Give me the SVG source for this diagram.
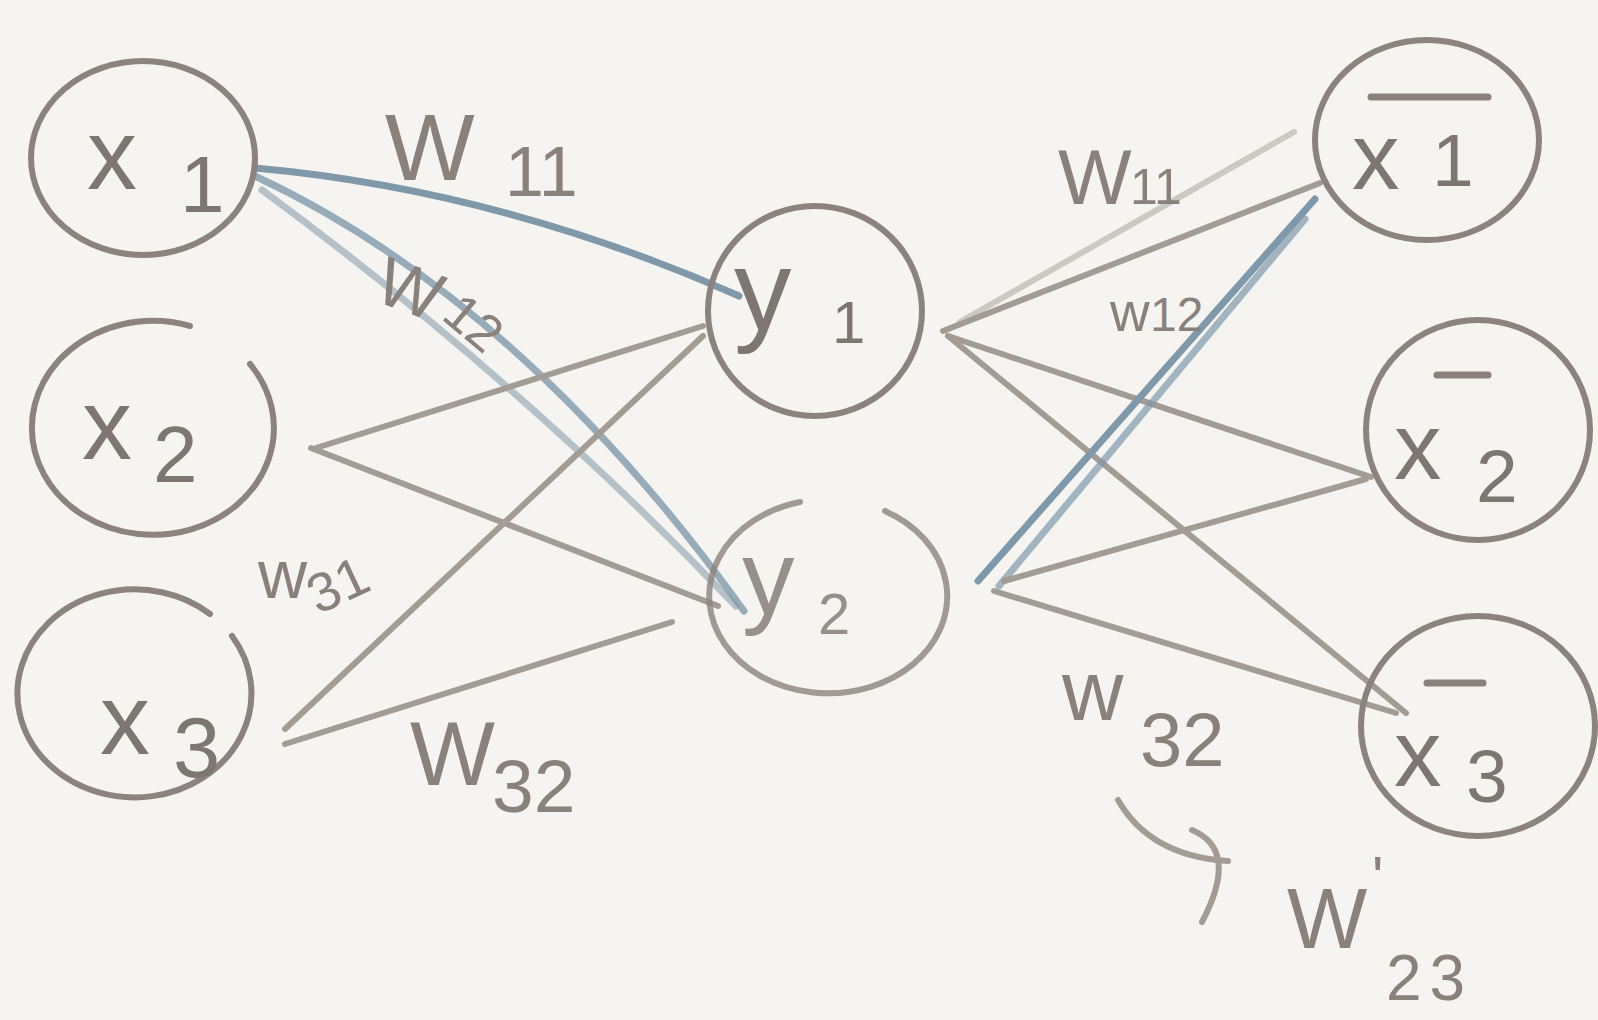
<svg xmlns="http://www.w3.org/2000/svg" width="1598" height="1020" viewBox="0 0 1598 1020">
<style>
.node{fill:none;stroke:#8c8280;stroke-width:6;stroke-linecap:round}
.lbl{font-family:"Liberation Sans","DejaVu Sans",sans-serif;fill:#7e7673}
.bar{stroke:#8a817e;stroke-width:7;stroke-linecap:round}
.e{fill:none;stroke:#a39c95;stroke-width:6;stroke-linecap:round}
.eb{fill:none;stroke:#7f98aa;stroke-width:7;stroke-linecap:round}
.wl{font-family:"Liberation Sans","DejaVu Sans",sans-serif;fill:#8a817c}
</style>
<rect x="0" y="0" width="1598" height="1020" fill="#f5f4f0"/>
<g id="connectors">
<path class="eb" d="M255,168 Q500,190 739,296"/>
<path class="eb" d="M255,176 Q520,300 744,611" opacity="0.8"/>
<path class="eb" d="M262,190 Q520,380 736,606" opacity="0.55"/>
<path class="e" d="M316,448 L703,326"/>
<path class="e" d="M311,448 L718,606"/>
<path class="e" d="M285,729 L703,336"/>
<path class="e" d="M285,744 L672,622" stroke="#968d88"/>
<path class="e" d="M943,331 L1320,183"/>
<path class="e" d="M960,322 L1294,132" opacity="0.5"/>
<path class="e" d="M948,336 L1371,477"/>
<path class="e" d="M948,336 L1406,713"/>
<path class="eb" d="M978,581 L1315,199"/>
<path class="eb" d="M999,586 L1305,219" opacity="0.7"/>
<path class="e" d="M1004,581 L1366,479" stroke="#b3a9a8"/>
<path class="e" d="M994,591 L1396,713"/>
<path class="e" d="M1118,800 Q1150,856 1228,861" stroke="#8a817e"/>
<path class="e" d="M1192,830 Q1240,850 1202,922" stroke="#8a817e"/>
</g>
<g id="x1">
<ellipse class="node" cx="143" cy="158" rx="112" ry="97"/>
<text class="lbl" x="87" y="189" font-size="100">x</text>
<text class="lbl" x="180" y="212" font-size="80">1</text>
</g>
<g id="x2">
<path class="node" d="M190,326 A121,107 0 1 0 250,364"/>
<text class="lbl" x="82" y="459" font-size="100">x</text>
<text class="lbl" x="153" y="482" font-size="80">2</text>
</g>
<g id="x3">
<path class="node" d="M210,614 A117,104 0 1 0 232,636"/>
<text class="lbl" x="100" y="754" font-size="100">x</text>
<text class="lbl" x="173" y="777" font-size="85">3</text>
</g>
<g id="y1">
<ellipse class="node" cx="815" cy="311" rx="107" ry="105"/>
<text class="lbl" x="734" y="330" font-size="115">y</text>
<text class="lbl" x="832" y="343" font-size="60">1</text>
</g>
<g id="y2">
<path class="node" d="M800,502 A119,97 0 1 0 885,511" opacity="0.8"/>
<text class="lbl" x="742" y="614" font-size="105" fill-opacity="0.8">y</text>
<text class="lbl" x="818" y="634" font-size="58" fill-opacity="0.8">2</text>
</g>
<g id="x1bar">
<ellipse class="node" cx="1427" cy="140" rx="112" ry="100"/>
<line class="bar" x1="1371" y1="97" x2="1488" y2="97"/>
<text class="lbl" x="1352" y="189" font-size="95">x</text>
<text class="lbl" x="1432" y="186" font-size="75">1</text>
</g>
<g id="x2bar">
<ellipse class="node" cx="1478" cy="430" rx="112" ry="110"/>
<line class="bar" x1="1437" y1="375" x2="1488" y2="375"/>
<text class="lbl" x="1394" y="479" font-size="95">x</text>
<text class="lbl" x="1476" y="502" font-size="75">2</text>
</g>
<g id="x3bar">
<ellipse class="node" cx="1478" cy="726" rx="117" ry="110"/>
<line class="bar" x1="1427" y1="683" x2="1483" y2="683"/>
<text class="lbl" x="1394" y="786" font-size="95">x</text>
<text class="lbl" x="1466" y="802" font-size="75">3</text>
</g>
<g id="weights">
<text class="wl" x="385" y="180" font-size="95">W</text>
<text class="wl" x="505" y="196" font-size="70">11</text>
<text class="wl" x="372" y="300" font-size="68" transform="rotate(20 372 300)">W</text>
<text class="wl" x="440" y="318" font-size="52" transform="rotate(40 440 318)">12</text>
<text class="wl" x="258" y="598" font-size="68">w</text>
<text class="wl" x="318" y="615" font-size="55" transform="rotate(-25 318 615)">31</text>
<text class="wl" x="410" y="785" font-size="90">W</text>
<text class="wl" x="492" y="812" font-size="75">32</text>
<text class="wl" x="1058" y="204" font-size="78">W</text>
<text class="wl" x="1130" y="204" font-size="50">11</text>
<text class="wl" x="1110" y="331" font-size="55" fill="#6e6466">w</text>
<text class="wl" x="1150" y="331" font-size="48" fill="#6e6466">12</text>
<text class="wl" x="1062" y="720" font-size="85">w</text>
<text class="wl" x="1140" y="766" font-size="76">32</text>
<text class="wl" x="1287" y="948" font-size="85">W</text>
<text class="wl" x="1372" y="898" font-size="60">'</text>
<text class="wl" x="1386" y="1000" font-size="64" letter-spacing="8">23</text>
</g>
</svg>
